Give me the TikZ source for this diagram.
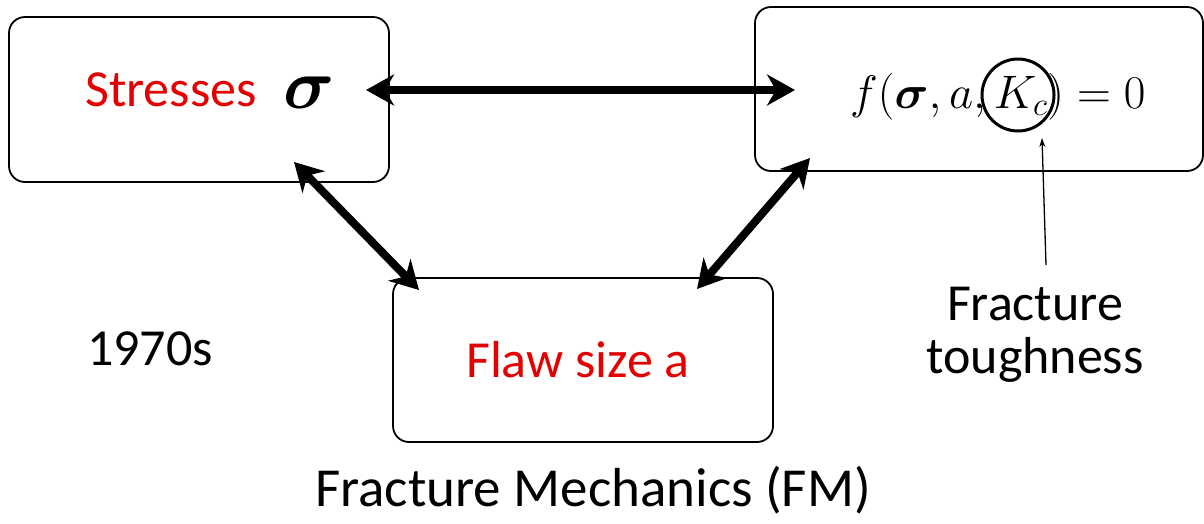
\RequirePackage{fix-cm}
\documentclass[tikz,border=0pt]{standalone}
\usepackage{amsmath}
\usepackage[no-math]{fontspec}
\setmainfont{Carlito}
\usetikzlibrary{arrows.meta}
\definecolor{flawred}{RGB}{228,0,0}
\begin{document}
\begin{tikzpicture}[x=1pt,y=-1pt,
  box/.style={draw=black, line width=1.8pt, rounded corners=16pt, inner sep=0pt},
  label/.style={font=\fontsize{52}{53}\selectfont, inner sep=0pt, anchor=base west},
  link/.style={line width=8pt,
    {Stealth[length=28pt,width=31pt,inset=9pt]}-{Stealth[length=28pt,width=31pt,inset=9pt]}},
  pointer/.style={line width=1.3pt, -{Stealth[length=9pt,width=6pt]}}]
\useasboundingbox (0,0) rectangle (1204,523);

% the three boxes
\node[box, minimum width=380pt, minimum height=165pt] (stress) at (199,99.5) {};
\node[box, minimum width=448pt, minimum height=164pt] (crit) at (979,89) {};
\node[box, minimum width=380pt, minimum height=164pt] (flawbox) at (583,360) {};

% box contents
\node[label, text=flawred] (stresstext) at (85,106) {Stresses};
\node[anchor=base west, inner sep=0pt] (sigma) at (283,108)
  {\fontsize{71}{71}\selectfont$\boldsymbol{\sigma}$};
\node[anchor=base west, inner sep=0pt] (law) at (850,108)
  {\fontsize{47}{47}\selectfont$f(\boldsymbol{\sigma},a,K_c)=0$};
\node[circle, draw, line width=3pt, minimum size=72pt, inner sep=0pt] (kc) at (1018,95) {};
\node[label, text=flawred] (flaw) at (466,377) {Flaw size a};

% free labels
\node[label] (era) at (87,365) {1970s};
\node[label, anchor=base, align=center] (tough) at (1035,373) {Fracture\\toughness};
\node[label, font=\fontsize{55}{56}\selectfont] (fm) at (315,506) {Fracture Mechanics (FM)};

% arrow end points
\coordinate (h1) at (366,90);
\coordinate (h2) at (795,90);
\coordinate (l1) at (294,162);
\coordinate (l2) at (419,290);
\coordinate (r1) at (810,158);
\coordinate (r2) at (697,289);
\coordinate (kctip) at (1042,138);
\coordinate (toughtop) at (1046,265);

% connectors
\draw[link] (h1) -- (h2);
\draw[link] (l1) -- (l2);
\draw[link] (r1) -- (r2);
\draw[pointer] (toughtop) -- (kctip);
\end{tikzpicture}
\end{document}
